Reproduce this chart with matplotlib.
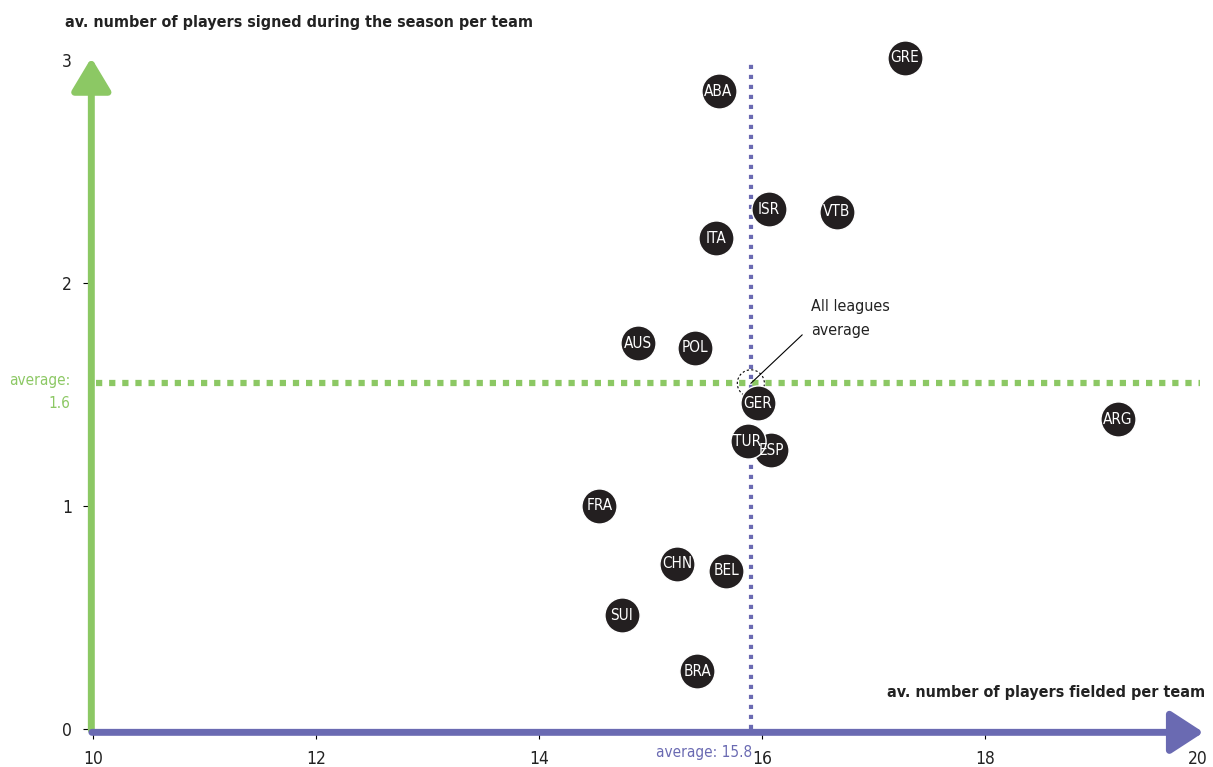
import matplotlib
matplotlib.use("Agg")
import matplotlib.pyplot as plt
from matplotlib import font_manager as fm

# Data
leagues = ["GRE", "ABA", "ISR", "VTB", "ITA", "AUS", "POL", "GER",
           "ARG", "ESP", "TUR", "FRA", "CHN", "BEL", "SUI", "BRA"]
players_fielded = [17.28, 15.61, 16.06, 16.67, 15.59, 14.89, 15.40, 15.96,
                   19.19, 16.08, 15.87, 14.54, 15.24, 15.68, 14.74, 15.42]
players_signed = [3.01, 2.86, 2.33, 2.32, 2.20, 1.73, 1.71, 1.46,
                  1.39, 1.25, 1.29, 1.00, 0.74, 0.71, 0.51, 0.26]
avg_fielded = 15.9
avg_signed = 1.55
avg_fielded_label = "average: 15.8"
avg_signed_label = "average:\n1.6"
x_ticks = [10, 12, 14, 16, 18, 20]
y_ticks = [0, 1, 2, 3]

GREEN = "#8cc864"
BLUE = "#6a6ab2"
DARK = "#231f20"

# look for a narrow face, the original uses a condensed grotesque
fonts = fm.fontManager.ttflist
has_cond = any(f.name == 'DejaVu Sans' and f.stretch == 'condensed' for f in fonts)
if has_cond:
    plt.rcParams['font.family'] = ['DejaVu Sans']
    plt.rcParams['font.stretch'] = 'condensed'
    scale = 1.0
else:
    plt.rcParams['font.family'] = ['Liberation Sans', 'DejaVu Sans']
    scale = 0.95

fig = plt.figure(figsize=(12.13, 7.67), dpi=100)
ax = fig.add_axes([93 / 1213, 38 / 767, 1115 / 1213, 669 / 767])
ax.set_xlim(10, 20)
ax.set_ylim(0, 3)
for s in ax.spines.values():
    s.set_visible(False)

ax.set_xticks(x_ticks)
ax.set_yticks(y_ticks)
ax.tick_params(axis='both', length=7, width=0.8, color='black', pad=8,
               labelsize=12.5 * scale, labelcolor='#222222')
ax.get_xticklabels()[-1].set_horizontalalignment('right')
# end ticks sit under the arrow heads
ax.xaxis.get_major_ticks()[-1].tick1line.set_visible(False)
ax.yaxis.get_major_ticks()[-1].tick1line.set_visible(False)

# average lines
ax.plot([avg_fielded, avg_fielded], [0, 3], color=BLUE, lw=3,
        linestyle=(0, (1, 1.4)), dash_capstyle='butt', zorder=2, clip_on=False)
ax.plot([10.03, 19.93], [avg_signed, avg_signed], color=GREEN, lw=4.5,
        linestyle=(0, (1, 1.1)), dash_capstyle='butt', zorder=2, clip_on=False)

# axis arrows
ax.annotate('', xy=(9.985, 3.01), xytext=(9.985, -0.005),
            arrowprops=dict(arrowstyle='-|>,head_length=0.4,head_width=0.24',
                            color=GREEN, lw=5, mutation_scale=50,
                            shrinkA=0, shrinkB=0),
            annotation_clip=False, zorder=4)
ax.annotate('', xy=(19.96, -0.015), xytext=(9.99, -0.015),
            arrowprops=dict(arrowstyle='-|>,head_length=0.4,head_width=0.26',
                            color=BLUE, lw=5, mutation_scale=50,
                            shrinkA=0, shrinkB=0),
            annotation_clip=False, zorder=4)

# all leagues average marker
ax.scatter([avg_fielded], [avg_signed], s=380, facecolor='none',
           edgecolor='black', linewidth=0.8, linestyle=(0, (2, 2)), zorder=3)
ax.annotate("All leagues\naverage", xy=(avg_fielded, avg_signed),
            xytext=(16.44, 1.84), fontsize=11.5 * scale, color='#222222',
            ha='left', va='center', linespacing=1.75,
            arrowprops=dict(arrowstyle='-', color='black', lw=0.8,
                            shrinkA=6, shrinkB=0,
                            relpos=(0, 0.3)))

# league bubbles
ax.scatter(players_fielded, players_signed, s=640, color=DARK,
           edgecolor='white', linewidth=1, zorder=5, clip_on=False)
for name, x, y in zip(leagues, players_fielded, players_signed):
    ax.text(x, y, name, color='white', fontsize=11 * scale, ha='center',
            va='center', zorder=6, clip_on=False)

# labels
fig.text(65 / 1213, 1 - 22 / 767,
         "av. number of players signed during the season per team",
         fontsize=11.5 * scale, fontweight='bold', color='#222222', ha='left', va='center')
fig.text(1205 / 1213, 1 - 692 / 767, "av. number of players fielded per team",
         fontsize=11.5 * scale, fontweight='bold', color='#222222', ha='right', va='center')
fig.text(70 / 1213, 1 - 392 / 767, avg_signed_label, fontsize=11 * scale, color=GREEN,
         ha='right', va='center', multialignment='right', linespacing=1.7)
fig.text(752 / 1213, 1 - 752 / 767, avg_fielded_label, fontsize=11 * scale, color=BLUE,
         ha='right', va='center')

fig.savefig("out.png", dpi=100)
